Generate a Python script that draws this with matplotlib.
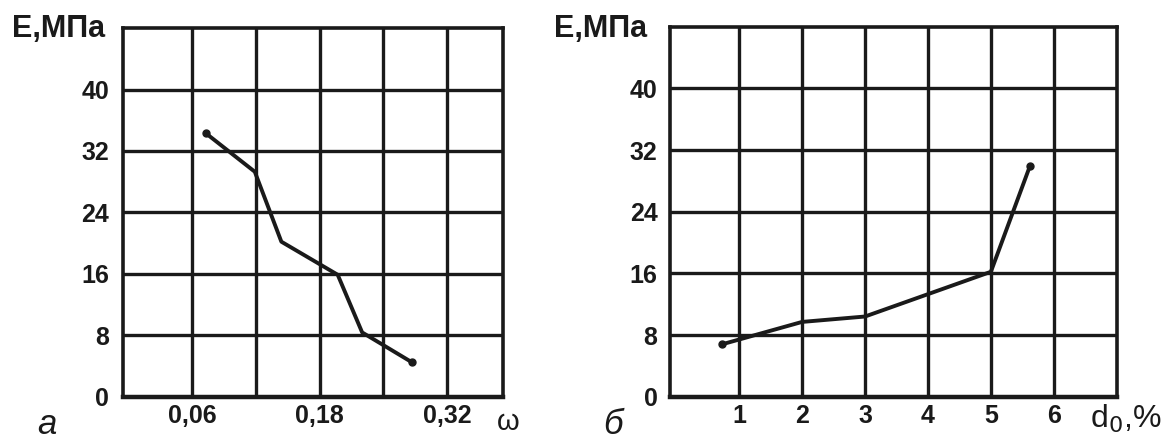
import matplotlib
matplotlib.use("Agg")
import matplotlib.pyplot as plt

plt.rcParams['font.family'] = ['Liberation Sans', 'DejaVu Sans']

# panel a: E vs moisture (x in grid steps of 0.06)
omega = [0.073, 0.119, 0.144, 0.197, 0.22, 0.267]
E_a = [34.3, 29.3, 20.2, 15.9, 8.4, 4.5]
xticks_a = [0.06, 0.12, 0.18, 0.24, 0.30]
xlabels_a = ['0,06', '', '0,18', '', '0,32']

# panel b: E vs d0
d0 = [0.73, 2.0, 3.0, 4.0, 5.0, 5.62]
E_b = [6.8, 9.7, 10.4, 13.3, 16.2, 29.9]
xticks_b = [1, 2, 3, 4, 5, 6]
xlabels_b = ['1', '2', '3', '4', '5', '6']

yticks = [0, 8, 16, 24, 32, 40]

ink = '#1a1a1a'
fig = plt.figure(figsize=(11.67, 4.41), dpi=100)
ax1 = fig.add_axes([0.1054, 0.0998, 0.3256, 0.8367])
ax2 = fig.add_axes([0.5741, 0.1005, 0.3828, 0.839])

def style(ax, xt, xl, xlim, ypad):
    ax.set_xlim(*xlim)
    ax.set_ylim(0, 48)
    ax.set_xticks(xt)
    ax.set_xticklabels(xl)
    ax.set_yticks(yticks)
    ax.grid(True, color=ink, linewidth=2.4)
    ax.tick_params(length=0, labelsize=18, colors=ink)
    ax.tick_params(axis='y', pad=ypad)
    ax.tick_params(axis='x', pad=5)
    for lab in ax.get_yticklabels() + ax.get_xticklabels():
        lab.set_fontweight('bold')
    for s in ax.spines.values():
        s.set_linewidth(2.6)
        s.set_color(ink)
    ax.spines['bottom'].set_linewidth(3.2)

style(ax1, xticks_a, xlabels_a, (-0.005, 0.3525), 10)
style(ax2, xticks_b, xlabels_b, (-0.1, 7.0), 9)

for ax, x, y in [(ax1, omega, E_a), (ax2, d0, E_b)]:
    ax.plot(x, y, color=ink, linewidth=2.8, zorder=3)
    ax.plot([x[0], x[-1]], [y[0], y[-1]], 'o', color=ink, markersize=5, zorder=4)

fig.text(0.010, 0.915, 'E,МПа', fontsize=22, fontweight='bold', color=ink, va='baseline')
fig.text(0.475, 0.915, 'E,МПа', fontsize=22, fontweight='bold', color=ink, va='baseline')
fig.text(0.426, 0.025, 'ω', fontsize=21, color=ink, va='baseline')
fig.text(0.934, 0.03, 'd$_0$,%', fontsize=23, color=ink, va='baseline')
fig.text(0.032, 0.0, 'а', fontsize=25, style='italic', color=ink, va='bottom')
fig.text(0.517, 0.0, 'б', fontsize=25, style='italic', color=ink, va='bottom')

fig.savefig('out.png', dpi=100)
